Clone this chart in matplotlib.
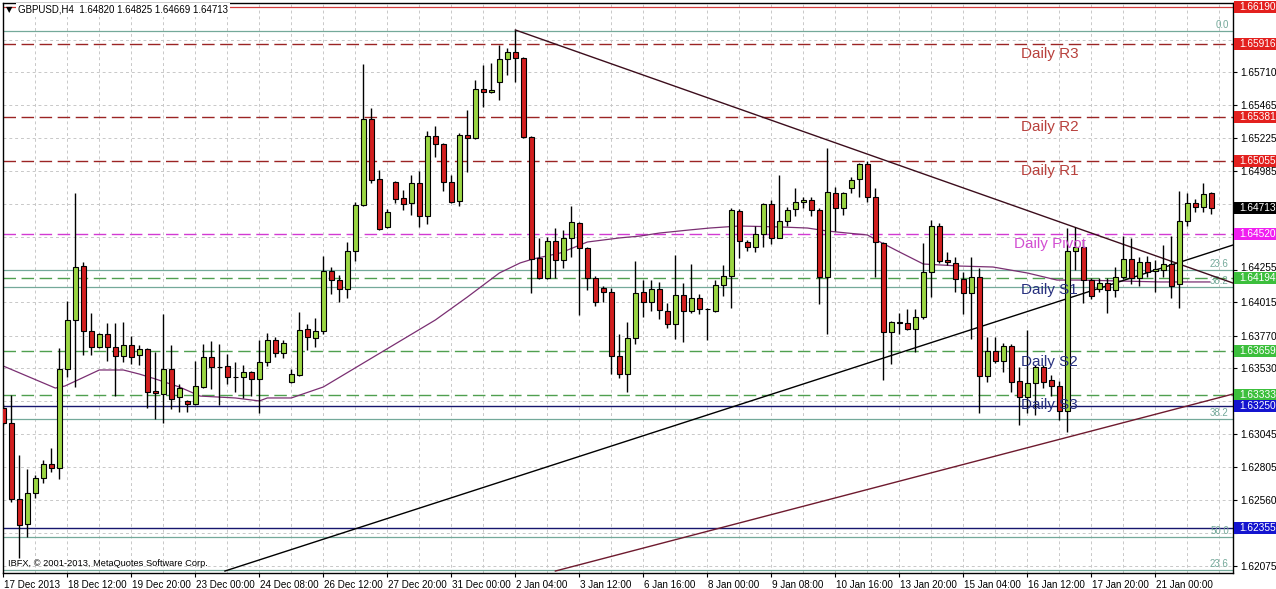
import matplotlib
matplotlib.use("Agg")
import matplotlib.pyplot as plt
import matplotlib.transforms as mtransforms
from matplotlib.patches import Rectangle
import numpy as np

# ---------------- data ----------------
opens = [1.63238, 1.63128, 1.62568, 1.62384, 1.62612, 1.62723, 1.62826, 1.62796, 1.63525, 1.63886,
         1.64283, 1.63805, 1.63687, 1.63783, 1.63687, 1.63621, 1.63702, 1.63628, 1.63672, 1.63363,
         1.63341, 1.63525, 1.63319, 1.63290, 1.63268, 1.63393, 1.63614, 1.63540, 1.63547, 1.63466,
         1.63466, 1.63503, 1.63452, 1.63577, 1.63739, 1.63643, 1.63430, 1.63481, 1.63820, 1.63753,
         1.63805, 1.64247, 1.64180, 1.64114, 1.64394, 1.64733, 1.65366, 1.64924, 1.64571, 1.64902,
         1.64784, 1.64747, 1.64894, 1.64652, 1.65240, 1.65182, 1.64902, 1.64762, 1.65248, 1.65226,
         1.65586, 1.65564, 1.65638, 1.65807, 1.65859, 1.65815, 1.65233, 1.64342, 1.64195, 1.64468,
         1.64328, 1.64490, 1.64600, 1.64416, 1.64195, 1.64122, 1.64092, 1.63621, 1.63488, 1.63753,
         1.64092, 1.64018, 1.64114, 1.63952, 1.63856, 1.64070, 1.63952, 1.64048, 1.63967, 1.63952,
         1.64144, 1.64210, 1.64688, 1.64460, 1.64423, 1.64519, 1.64740, 1.64490, 1.64615, 1.64703,
         1.64755, 1.64769, 1.64696, 1.64202, 1.64821, 1.64710, 1.64858, 1.64924, 1.65034, 1.64791,
         1.64453, 1.63798, 1.63871, 1.63864, 1.63820, 1.63908, 1.64239, 1.64578, 1.64328, 1.64306,
         1.64188, 1.64085, 1.64202, 1.63474, 1.63658, 1.63584, 1.63695, 1.63437, 1.63319, 1.63422,
         1.63540, 1.63444, 1.63400, 1.63216, 1.64394, 1.64423, 1.64180, 1.64114, 1.64158, 1.64107,
         1.64202, 1.64335, 1.64195, 1.64313, 1.64247, 1.64254, 1.64298, 1.64151, 1.64615, 1.64747,
         1.64718, 1.64820]
highs = [1.63268, 1.63334, 1.62892, 1.62789, 1.62745, 1.62855, 1.62944, 1.63680, 1.64026, 1.64821,
         1.64313, 1.63938, 1.63790, 1.63864, 1.63864, 1.63871, 1.63768, 1.63702, 1.63680, 1.63650,
         1.63930, 1.63702, 1.63415, 1.63297, 1.63584, 1.63709, 1.63731, 1.63709, 1.63636, 1.63577,
         1.63555, 1.63511, 1.63739, 1.63790, 1.63761, 1.63739, 1.63525, 1.63945, 1.63856, 1.63901,
         1.64357, 1.64276, 1.64217, 1.64460, 1.64755, 1.65771, 1.65447, 1.64990, 1.64703, 1.64909,
         1.64843, 1.64953, 1.64983, 1.65277, 1.65314, 1.65189, 1.64953, 1.65263, 1.65432, 1.65653,
         1.65763, 1.65778, 1.65910, 1.65888, 1.66021, 1.65822, 1.65240, 1.64490, 1.64497, 1.64563,
         1.64549, 1.64725, 1.64607, 1.64423, 1.64210, 1.64136, 1.64122, 1.63783, 1.63871, 1.64320,
         1.64180, 1.64180, 1.64166, 1.64011, 1.64364, 1.64158, 1.64298, 1.64077, 1.63974, 1.64180,
         1.64291, 1.64710, 1.64703, 1.64475, 1.64578, 1.64747, 1.64769, 1.64953, 1.64718, 1.64858,
         1.64791, 1.64791, 1.64710, 1.65152, 1.64865, 1.64828, 1.64939, 1.65042, 1.65056, 1.64858,
         1.64460, 1.63875, 1.63938, 1.63967, 1.63967, 1.64453, 1.64622, 1.64600, 1.64387, 1.64350,
         1.64239, 1.64350, 1.64269, 1.63761, 1.63761, 1.63717, 1.63709, 1.63540, 1.63812, 1.63555,
         1.63555, 1.63481, 1.63437, 1.64563, 1.64571, 1.64475, 1.64195, 1.64195, 1.64195, 1.64276,
         1.64504, 1.64490, 1.64350, 1.64357, 1.64328, 1.64438, 1.64504, 1.64836, 1.64821, 1.64777,
         1.64894, 1.64825]
lows = [1.63113, 1.62546, 1.62134, 1.62289, 1.62576, 1.62686, 1.62767, 1.62715, 1.63466, 1.63393,
        1.63628, 1.63628, 1.63680, 1.63584, 1.63326, 1.63577, 1.63562, 1.63555, 1.63238, 1.63157,
        1.63128, 1.63231, 1.63209, 1.63209, 1.63260, 1.63385, 1.63378, 1.63260, 1.63415, 1.63356,
        1.63312, 1.63326, 1.63201, 1.63547, 1.63614, 1.63606, 1.63422, 1.63474, 1.63665, 1.63687,
        1.63783, 1.64077, 1.64018, 1.64048, 1.64320, 1.64725, 1.64894, 1.64549, 1.64563, 1.64747,
        1.64696, 1.64659, 1.64571, 1.64593, 1.65086, 1.64836, 1.64747, 1.64725, 1.64976, 1.65218,
        1.65454, 1.65557, 1.65506, 1.65690, 1.65638, 1.65225, 1.64085, 1.64188, 1.64188, 1.64195,
        1.64269, 1.64350, 1.63923, 1.64107, 1.63989, 1.64018, 1.63488, 1.63459, 1.63356, 1.63709,
        1.63908, 1.63952, 1.63893, 1.63827, 1.63746, 1.63724, 1.63938, 1.63930, 1.63739, 1.63945,
        1.64063, 1.63974, 1.64342, 1.64394, 1.64387, 1.64423, 1.64446, 1.64488, 1.64578, 1.64652,
        1.64710, 1.64652, 1.64004, 1.63783, 1.64541, 1.64659, 1.64821, 1.64791, 1.64755, 1.64202,
        1.63444, 1.63562, 1.63783, 1.63812, 1.63650, 1.63893, 1.64055, 1.64306, 1.64291, 1.64092,
        1.63930, 1.63746, 1.63201, 1.63430, 1.63569, 1.63503, 1.63356, 1.63113, 1.63201, 1.63187,
        1.63385, 1.63326, 1.63150, 1.63062, 1.64254, 1.64011, 1.64041, 1.64092, 1.63938, 1.64055,
        1.64188, 1.64151, 1.64136, 1.64202, 1.64092, 1.64202, 1.64048, 1.63974, 1.64578, 1.64681,
        1.64681, 1.64669]
closes = [1.63128, 1.62568, 1.62377, 1.62612, 1.62723, 1.62826, 1.62796, 1.63525, 1.63886, 1.64276,
          1.63805, 1.63687, 1.63783, 1.63687, 1.63621, 1.63702, 1.63614, 1.63672, 1.63356, 1.63349,
          1.63525, 1.63304, 1.63385, 1.63268, 1.63400, 1.63614, 1.63540, 1.63538, 1.63466, 1.63464,
          1.63503, 1.63452, 1.63577, 1.63739, 1.63643, 1.63717, 1.63488, 1.63812, 1.63761, 1.63805,
          1.64247, 1.64180, 1.64114, 1.64394, 1.64733, 1.65366, 1.64917, 1.64556, 1.64681, 1.64777,
          1.64740, 1.64894, 1.64652, 1.65240, 1.65182, 1.64902, 1.64755, 1.65248, 1.65226, 1.65586,
          1.65564, 1.65579, 1.65807, 1.65859, 1.65815, 1.65233, 1.64335, 1.64195, 1.64468, 1.64328,
          1.64490, 1.64607, 1.64416, 1.64195, 1.64018, 1.64092, 1.63621, 1.63488, 1.63753, 1.64085,
          1.64018, 1.64114, 1.63960, 1.63856, 1.64070, 1.63952, 1.64048, 1.63967, 1.63965, 1.64144,
          1.64210, 1.64696, 1.64468, 1.64423, 1.64519, 1.64740, 1.64490, 1.64615, 1.64696, 1.64755,
          1.64769, 1.64696, 1.64202, 1.64828, 1.64710, 1.64821, 1.64917, 1.65034, 1.64791, 1.64460,
          1.63798, 1.63871, 1.63864, 1.63820, 1.63908, 1.64239, 1.64578, 1.64320, 1.64313, 1.64188,
          1.64085, 1.64202, 1.63474, 1.63658, 1.63584, 1.63695, 1.63430, 1.63319, 1.63422, 1.63540,
          1.63430, 1.63400, 1.63216, 1.64394, 1.64423, 1.64180, 1.64063, 1.64158, 1.64107, 1.64202,
          1.64335, 1.64195, 1.64313, 1.64239, 1.64261, 1.64298, 1.64136, 1.64615, 1.64747, 1.64718,
          1.64813, 1.64713]

# moving average (bar index, value)
ma_bar = [0, 6.5, 7.7, 12, 15, 17, 19, 22, 24.6, 29, 32, 33, 36, 40, 54, 58, 62, 64.6, 66.2,
          69.6, 73, 77, 79.6, 82, 85.8, 88.3, 92, 97, 100.5, 103, 105.5, 108, 109.6, 112, 115,
          119.6, 123.7, 128, 131.7, 134.6, 144.6, 150.8]
ma_val = [1.63547, 1.63385, 1.63400, 1.63518, 1.63518, 1.63488, 1.63452, 1.63393, 1.63326,
          1.63312, 1.63290, 1.63312, 1.63312, 1.63393, 1.63886, 1.64055, 1.64232, 1.64306,
          1.64335, 1.64379, 1.64460, 1.64490, 1.64504, 1.64526, 1.64549, 1.64563, 1.64578,
          1.64571, 1.64563, 1.64541, 1.64526, 1.64512, 1.64460, 1.64387, 1.64298, 1.64283,
          1.64276, 1.64232, 1.64180, 1.64180, 1.64166, 1.64166]

# trend lines: (bar, price) end points
trend_black_bar = [27.7, 153.7]
trend_black_val = [1.62038, 1.64438]
trend_maroon_bar = [69.0, 153.7]
trend_maroon_val = [1.62038, 1.63341]
trend_down_bar = [64.0, 153.7]
trend_down_val = [1.66021, 1.64158]

# pivot levels
pivot_names = ["Daily R3", "Daily R2", "Daily R1", "Daily Pivot", "Daily S1", "Daily S2", "Daily S3"]
pivot_levels = [1.65916, 1.65381, 1.65055, 1.64520, 1.64194, 1.63659, 1.63333]
blue_levels = [1.63250, 1.62355]
top_level = 1.66190
current_price = 1.64713
fib_levels = [1.66013, 1.64254, 1.64129, 1.63157, 1.62289, 1.62046]
fib_names = ["0.0", "23.6", "38.2", "38.2", "50.0", "23.6"]

y_ticks = [1.62075, 1.62320, 1.62560, 1.62805, 1.63045, 1.63290, 1.63530, 1.63770, 1.64015,
           1.64255, 1.64500, 1.64740, 1.64985, 1.65225, 1.65465, 1.65710, 1.65950, 1.66190]
# tick labels hidden behind the coloured price boxes in the reference
y_hidden = [1.62320, 1.63290, 1.64500, 1.64740, 1.65950, 1.66190]
x_label_bars = list(range(0, 152, 8))
x_labels = ["17 Dec 2013", "18 Dec 12:00", "19 Dec 20:00", "23 Dec 00:00", "24 Dec 08:00",
            "26 Dec 12:00", "27 Dec 20:00", "31 Dec 00:00", "2 Jan 04:00", "3 Jan 12:00",
            "6 Jan 16:00", "8 Jan 00:00", "9 Jan 08:00", "10 Jan 16:00", "13 Jan 20:00",
            "15 Jan 04:00", "16 Jan 12:00", "17 Jan 20:00", "21 Jan 00:00"]

# ---------------- drawing ----------------
FONT = ["Liberation Sans", "DejaVu Sans"]
plt.rcParams['font.family'] = FONT

W, H = 1276, 589
fig = plt.figure(figsize=(W / 100, H / 100), dpi=100)
fig.patch.set_facecolor("white")
ax = fig.add_axes([3 / W, (H - 573) / H, 1230 / W, 570 / H])
ax.set_facecolor("white")
ax.set_xlim(-0.04, 153.7)
ax.set_ylim(1.620235, 1.662195)

# grid
grid_kw = dict(color="#c8c8c8", lw=0.7, dashes=(3, 3), zorder=0.5)
for b in range(4, 154, 4):
    ax.axvline(b, **grid_kw)
for t in y_ticks:
    ax.axhline(t, **grid_kw)

# horizontal levels
ax.axhline(top_level, color="#d23a3a", lw=0.9, zorder=1)
for v in fib_levels:
    ax.axhline(v, color="#74a99a", lw=0.9, zorder=1)
for v in blue_levels:
    ax.axhline(v, color="#16166e", lw=1.0, zorder=1)
lvl_colors = ["#9b2424", "#9b2424", "#9b2424", "#d23ad2", "#4f9f4f", "#4f9f4f", "#4f9f4f"]
for v, c in zip(pivot_levels, lvl_colors):
    ax.axhline(v, color=c, lw=1.0, dashes=(9, 4), zorder=1)

# fib labels
for v, name in zip(fib_levels, fib_names):
    ax.annotate(name, xy=(1.0, v), xycoords=("axes fraction", "data"),
                xytext=(-3, 1), textcoords="offset points", ha="right", va="bottom",
                fontsize=7, color="#74a99a", zorder=2)

# moving average
ax.plot(ma_bar, ma_val, color="#7a2f72", lw=0.9, zorder=2)

# trend lines
ax.plot(trend_black_bar, trend_black_val, color="black", lw=1.0, zorder=3)
ax.plot(trend_maroon_bar, trend_maroon_val, color="#6e1a2e", lw=1.0, zorder=3)
ax.plot(trend_down_bar, trend_down_val, color="#3c0d1c", lw=1.0, zorder=3)

# candles
o = np.array(opens); h = np.array(highs); l = np.array(lows); c = np.array(closes)
xs = np.arange(len(o))
ax.vlines(xs, l, h, color="black", lw=1.0, zorder=4)
bottoms = np.minimum(o, c)
heights = np.maximum(np.abs(c - o), 0.00001)
cols = np.where(c >= o, "#9bd643", "#d21f1f")
ax.bar(xs, heights, bottom=bottoms, width=0.62, color=cols, edgecolor="black",
       linewidth=0.8, zorder=5)

# pivot texts
pivot_text_colors = ["#b8403c", "#b8403c", "#b8403c", "#d24fd2", "#27307e", "#27307e", "#27307e"]
pivot_text_y = [1.65844, 1.65307, 1.64983, 1.64446, 1.64107, 1.63577, 1.63260]
pivot_text_x = [127.2, 127.2, 127.2, 126.3, 127.2, 127.2, 127.2]
for name, tx, ty, col in zip(pivot_names, pivot_text_x, pivot_text_y, pivot_text_colors):
    ax.text(tx, ty, name, color=col, fontsize=11, ha="left", va="center", zorder=6)

# axes styling
for s in ax.spines.values():
    s.set_color("black")
    s.set_linewidth(1.0)
ax.yaxis.tick_right()
ax.set_yticks(y_ticks)
ax.set_yticklabels(["" if t in y_hidden else f"{t:.5f}" for t in y_ticks])
ax.tick_params(axis="y", length=3, width=0.8, pad=2, labelsize=7.3, colors="black")
up = mtransforms.ScaledTranslation(0, 2.5 / 100, fig.dpi_scale_trans)
for t, lbl in zip(y_ticks, ax.get_yticklabels()):
    if abs(t - 1.64255) < 1e-6:
        lbl.set_transform(lbl.get_transform() + up)
ax.set_xticks(x_label_bars)
ax.set_xticklabels(x_labels, ha="left")
ax.tick_params(axis="x", length=3, width=0.8, pad=2, labelsize=7.1, colors="black")
off = mtransforms.ScaledTranslation(1 / 100, 0, fig.dpi_scale_trans)
for lbl in ax.get_xticklabels():
    lbl.set_transform(lbl.get_transform() + off)

# price boxes on right axis
def fig_y(price):
    return ax.transData.transform((0, price))[1] / H

boxes = [(top_level, "#e3201e"), (pivot_levels[0], "#e3201e"), (pivot_levels[1], "#e3201e"),
         (pivot_levels[2], "#e3201e"), (current_price, "#000000"), (pivot_levels[3], "#f01ef0"),
         (pivot_levels[4], "#3cbf3c"), (pivot_levels[5], "#3cbf3c"), (pivot_levels[6], "#3cbf3c"),
         (blue_levels[0], "#1414cf"), (blue_levels[1], "#1414cf")]
for price, col in boxes:
    yf = fig_y(price)
    fig.patches.append(Rectangle((1234 / W, yf - 6 / H), 42 / W, 12 / H,
                                 transform=fig.transFigure, facecolor=col,
                                 edgecolor="none", zorder=3))
    fig.text(1239 / W, yf, f"{price:.5f}", color="white", fontsize=7.3,
             ha="left", va="center", zorder=4)

# title and copyright
fig.text(18 / W, 1 - 10 / H, "GBPUSD,H4  1.64820 1.64825 1.64669 1.64713", fontsize=7,
         ha="left", va="center", color="black",
         bbox=dict(facecolor="white", edgecolor="none", pad=1.2), zorder=5)
fig.text(6 / W, 1 - 10 / H, "\u25BC", fontsize=6, ha="left", va="center",
         color="black", family=["DejaVu Sans"], zorder=6)
fig.text(8 / W, 1 - 563 / H, "IBFX, \u00A9 2001-2013, MetaQuotes Software Corp.",
         fontsize=6.7, ha="left", va="center", color="black", zorder=5)

fig.savefig("out.png", dpi=100, facecolor="white")
